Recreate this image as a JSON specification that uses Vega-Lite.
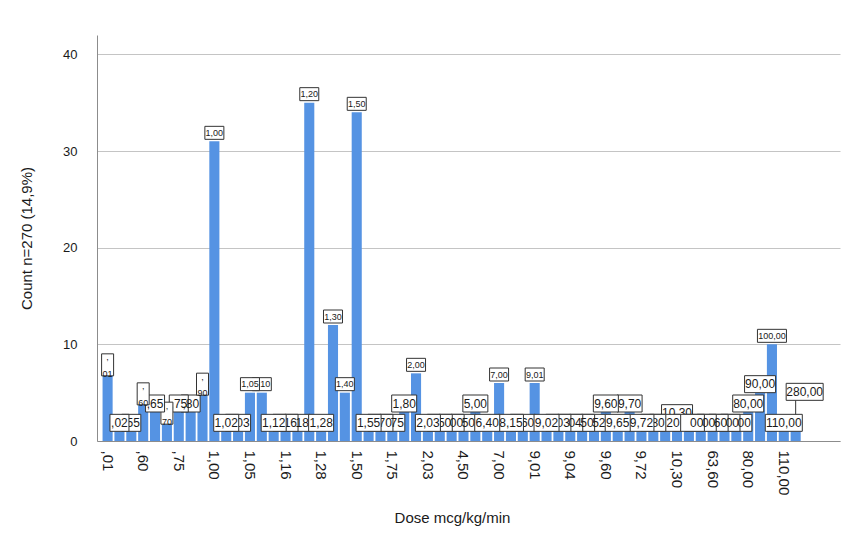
{
  "$schema": "https://vega.github.io/schema/vega-lite/v6.json",
  "width": 743,
  "height": 406,
  "autosize": {"type": "none"},
  "padding": {"left": 97, "top": 35, "right": 11, "bottom": 100},
  "background": "white",
  "config": {
    "font": "Liberation Sans",
    "view": {"stroke": null},
    "axis": {"labelColor": "#1a1a1a", "titleColor": "#1a1a1a", "titleFontWeight": "normal", "ticks": false, "domainColor": "#8c8c8c"}
  },
  "data": {
    "values": [
      {"label": ",01", "dose": 0.01, "count": 7},
      {"label": ",02", "dose": 0.02, "count": 1},
      {"label": ",55", "dose": 0.55, "count": 1},
      {"label": ",60", "dose": 0.6, "count": 4},
      {"label": ",65", "dose": 0.65, "count": 3},
      {"label": ",70", "dose": 0.7, "count": 2},
      {"label": ",75", "dose": 0.75, "count": 3},
      {"label": ",80", "dose": 0.8, "count": 3},
      {"label": ",90", "dose": 0.9, "count": 5},
      {"label": "1,00", "dose": 1.0, "count": 31},
      {"label": "1,02", "dose": 1.02, "count": 1},
      {"label": "1,03", "dose": 1.03, "count": 1},
      {"label": "1,05", "dose": 1.05, "count": 5},
      {"label": "1,10", "dose": 1.1, "count": 5},
      {"label": "1,12", "dose": 1.12, "count": 1},
      {"label": "1,16", "dose": 1.16, "count": 1},
      {"label": "1,18", "dose": 1.18, "count": 1},
      {"label": "1,20", "dose": 1.2, "count": 35},
      {"label": "1,28", "dose": 1.28, "count": 1},
      {"label": "1,30", "dose": 1.3, "count": 12},
      {"label": "1,40", "dose": 1.4, "count": 5},
      {"label": "1,50", "dose": 1.5, "count": 34},
      {"label": "1,55", "dose": 1.55, "count": 1},
      {"label": "1,70", "dose": 1.7, "count": 1},
      {"label": "1,75", "dose": 1.75, "count": 1},
      {"label": "1,80", "dose": 1.8, "count": 3},
      {"label": "2,00", "dose": 2.0, "count": 7},
      {"label": "2,03", "dose": 2.03, "count": 1},
      {"label": "2,50", "dose": 2.5, "count": 1},
      {"label": "3,00", "dose": 3.0, "count": 1},
      {"label": "4,50", "dose": 4.5, "count": 1},
      {"label": "5,00", "dose": 5.0, "count": 3},
      {"label": "6,40", "dose": 6.4, "count": 1},
      {"label": "7,00", "dose": 7.0, "count": 6},
      {"label": "8,15", "dose": 8.15, "count": 1},
      {"label": "8,60", "dose": 8.6, "count": 1},
      {"label": "9,01", "dose": 9.01, "count": 6},
      {"label": "9,02", "dose": 9.02, "count": 1},
      {"label": "9,03", "dose": 9.03, "count": 1},
      {"label": "9,04", "dose": 9.04, "count": 1},
      {"label": "9,50", "dose": 9.5, "count": 1},
      {"label": "9,52", "dose": 9.52, "count": 1},
      {"label": "9,60", "dose": 9.6, "count": 3},
      {"label": "9,65", "dose": 9.65, "count": 1},
      {"label": "9,70", "dose": 9.7, "count": 3},
      {"label": "9,72", "dose": 9.72, "count": 1},
      {"label": "9,80", "dose": 9.8, "count": 1},
      {"label": "10,20", "dose": 10.2, "count": 1},
      {"label": "10,30", "dose": 10.3, "count": 2},
      {"label": "11,00", "dose": 11.0, "count": 1},
      {"label": "60,00", "dose": 60.0, "count": 1},
      {"label": "63,60", "dose": 63.6, "count": 1},
      {"label": "70,00", "dose": 70.0, "count": 1},
      {"label": "75,00", "dose": 75.0, "count": 1},
      {"label": "80,00", "dose": 80.0, "count": 3},
      {"label": "90,00", "dose": 90.0, "count": 5},
      {"label": "100,00", "dose": 100.0, "count": 10},
      {"label": "110,00", "dose": 110.0, "count": 1},
      {"label": "280,00", "dose": 280.0, "count": 1}
    ]
  },
  "encoding": {
    "x": {
      "field": "label",
      "type": "ordinal",
      "scale": {
        "type": "band",
        "domain": [",01", ",02", ",55", ",60", ",65", ",70", ",75", ",80", ",90", "1,00", "1,02", "1,03", "1,05", "1,10", "1,12", "1,16", "1,18", "1,20", "1,28", "1,30", "1,40", "1,50", "1,55", "1,70", "1,75", "1,80", "2,00", "2,03", "2,50", "3,00", "4,50", "5,00", "6,40", "7,00", "8,15", "8,60", "9,01", "9,02", "9,03", "9,04", "9,50", "9,52", "9,60", "9,65", "9,70", "9,72", "9,80", "10,20", "10,30", "11,00", "60,00", "63,60", "70,00", "75,00", "80,00", "90,00", "100,00", "110,00", "280,00", "~a", "~b", "~c"],
        "paddingInner": 0.15,
        "paddingOuter": 0.39,
        "align": 0.6
      },
      "axis": {
        "values": [",01", ",60", ",75", "1,00", "1,05", "1,16", "1,28", "1,50", "1,75", "2,03", "4,50", "7,00", "9,01", "9,04", "9,60", "9,72", "10,30", "63,60", "80,00", "110,00"],
        "labelAngle": 90,
        "labelFontSize": 15,
        "labelPadding": 9,
        "grid": false,
        "title": "Dose mcg/kg/min",
        "titleFontSize": 15,
        "titlePadding": 16,
        "titleX": 355
      }
    },
    "y": {
      "field": "count",
      "type": "quantitative",
      "scale": {"domain": [0, 42], "nice": false},
      "axis": {
        "values": [0, 10, 20, 30, 40],
        "grid": true,
        "gridColor": "#c4c4c4",
        "labelFontSize": 13,
        "labelPadding": 20,
        "title": "Count n=270 (14,9%)",
        "titleFontSize": 15,
        "titlePadding": 28
      }
    }
  },
  "layer": [
    {
      "mark": {"type": "bar", "color": "#5593e3"}
    },
    {
      "transform": [{"filter": "datum.label == '10,30'"}],
      "mark": {"type": "point", "filled": true, "fill": "white", "stroke": "#333333", "strokeWidth": 1, "opacity": 1, "size": 400, "yOffset": -8.5},
      "encoding": {"shape": {"value": "M-1.55,-0.85L1.55,-0.85L1.55,0.85L-1.55,0.85Z"}}
    },
    {
      "transform": [{"filter": "datum.label == '10,30'"}],
      "mark": {"type": "text", "align": "center", "baseline": "middle", "fontSize": 12, "color": "#1a1a1a", "yOffset": -8.5},
      "encoding": {"text": {"field": "label"}}
    },
    {
      "transform": [{"filter": "indexof([',55',',75',',80','1,03','1,10','1,16','1,18','1,70','1,75','2,50','3,00','4,50','8,60','9,03','9,04','9,50','9,52','9,80','10,20','11,00','60,00','63,60','70,00','75,00'], datum.label) >= 0"}],
      "mark": {"type": "point", "filled": true, "fill": "white", "stroke": "#333333", "strokeWidth": 1, "opacity": 1, "size": 400, "yOffset": -8.5},
      "encoding": {
        "order": {"field": "dose", "sort": "descending"},
        "shape": {
          "condition": [
            {"test": "datum.label == '1,10'", "value": "M-0.95,-0.65L0.95,-0.65L0.95,0.65L-0.95,0.65Z"},
            {"test": "length(datum.label) == 3", "value": "M-0.95,-0.85L0.95,-0.85L0.95,0.85L-0.95,0.85Z"},
            {"test": "length(datum.label) == 5", "value": "M-1.55,-0.85L1.55,-0.85L1.55,0.85L-1.55,0.85Z"}
          ],
          "value": "M-1.25,-0.85L1.25,-0.85L1.25,0.85L-1.25,0.85Z"
        }
      }
    },
    {
      "transform": [{"filter": "indexof([',55',',75',',80'], datum.label) >= 0"}],
      "mark": {"type": "text", "align": "right", "baseline": "middle", "dir": "rtl", "limit": 17, "ellipsis": " ", "fontSize": 12, "color": "#1a1a1a", "xOffset": 8.5, "yOffset": -8.5},
      "encoding": {"text": {"field": "label"}}
    },
    {
      "transform": [{"filter": "indexof(['1,03','1,16','1,18','1,70','1,75','2,50','3,00','4,50','8,60','9,03','9,04','9,50','9,52','9,80'], datum.label) >= 0"}],
      "mark": {"type": "text", "align": "right", "baseline": "middle", "dir": "rtl", "limit": 17, "ellipsis": " ", "fontSize": 12, "color": "#1a1a1a", "xOffset": 11.5, "yOffset": -8.5},
      "encoding": {"text": {"field": "label"}}
    },
    {
      "transform": [{"filter": "indexof(['10,20','11,00','60,00','63,60','70,00','75,00'], datum.label) >= 0"}],
      "mark": {"type": "text", "align": "right", "baseline": "middle", "dir": "rtl", "limit": 17, "ellipsis": " ", "fontSize": 12, "color": "#1a1a1a", "xOffset": 14.5, "yOffset": -8.5},
      "encoding": {"text": {"field": "label"}}
    },
    {
      "transform": [{"filter": "datum.label == '1,10'"}],
      "mark": {"type": "text", "align": "right", "baseline": "middle", "dir": "rtl", "limit": 15.5, "ellipsis": " ", "fontSize": 9, "color": "#1a1a1a", "xOffset": 8.5, "yOffset": -8.5},
      "encoding": {"text": {"field": "label"}}
    },
    {
      "transform": [{"filter": "indexof([',55',',75',',80','1,03','1,10','1,16','1,18','1,70','1,75','2,50','3,00','4,50','8,60','9,03','9,04','9,50','9,52','9,80','10,20','10,30','11,00','60,00','63,60','70,00','75,00','280,00'], datum.label) < 0"}],
      "mark": {"type": "point", "filled": true, "fill": "white", "stroke": "#333333", "strokeWidth": 1, "opacity": 1, "size": 400, "yOffset": -8.5},
      "encoding": {
        "order": {"field": "dose", "sort": "descending"},
        "shape": {
          "condition": [
            {"test": "indexof([',01',',60',',70',',90'], datum.label) >= 0", "value": "M-0.6,-1.1L0.6,-1.1L0.6,1.1L-0.6,1.1Z"},
            {"test": "datum.label == '100,00'", "value": "M-1.45,-0.65L1.45,-0.65L1.45,0.65L-1.45,0.65Z"},
            {"test": "indexof(['1,00','1,05','1,20','1,30','1,40','1,50','2,00','7,00','9,01'], datum.label) >= 0", "value": "M-0.95,-0.65L0.95,-0.65L0.95,0.65L-0.95,0.65Z"},
            {"test": "length(datum.label) == 3", "value": "M-0.95,-0.85L0.95,-0.85L0.95,0.85L-0.95,0.85Z"},
            {"test": "length(datum.label) == 5", "value": "M-1.55,-0.85L1.55,-0.85L1.55,0.85L-1.55,0.85Z"},
            {"test": "length(datum.label) == 6", "value": "M-1.85,-0.85L1.85,-0.85L1.85,0.85L-1.85,0.85Z"}
          ],
          "value": "M-1.25,-0.85L1.25,-0.85L1.25,0.85L-1.25,0.85Z"
        }
      }
    },
    {
      "transform": [{"filter": "indexof([',01',',60',',70',',90',',55',',75',',80','1,03','1,10','1,16','1,18','1,70','1,75','2,50','3,00','4,50','8,60','9,03','9,04','9,50','9,52','9,80','10,20','10,30','11,00','60,00','63,60','70,00','75,00','280,00'], datum.label) < 0"}],
      "mark": {"type": "text", "align": "center", "baseline": "middle", "color": "#1a1a1a", "yOffset": -8.5},
      "encoding": {
        "text": {"field": "label"},
        "size": {
          "condition": {"test": "indexof(['1,00','1,05','1,20','1,30','1,40','1,50','2,00','7,00','9,01','100,00'], datum.label) >= 0", "value": 9},
          "value": 12
        }
      }
    },
    {
      "transform": [{"filter": "indexof([',01',',60',',70',',90'], datum.label) >= 0"}],
      "mark": {"type": "text", "align": "center", "baseline": "middle", "lineBreak": ",", "lineHeight": 9, "fontSize": 9, "color": "#1a1a1a", "yOffset": -8.5},
      "encoding": {"text": {"field": "label"}}
    },
    {
      "transform": [{"filter": "indexof([',01',',60',',70',',90'], datum.label) >= 0"}],
      "mark": {"type": "text", "align": "center", "baseline": "middle", "fontSize": 9, "color": "#1a1a1a", "yOffset": -16},
      "encoding": {"text": {"value": ","}}
    },
    {
      "transform": [{"filter": "datum.label == '280,00'"}],
      "mark": {"type": "rule", "color": "#333333", "strokeWidth": 1, "yOffset": -17, "y2Offset": -31},
      "encoding": {"y2": {"field": "count"}}
    },
    {
      "transform": [{"filter": "datum.label == '280,00'"}],
      "mark": {"type": "point", "filled": true, "fill": "white", "stroke": "#333333", "strokeWidth": 1, "opacity": 1, "size": 400, "xOffset": 9, "yOffset": -39.5},
      "encoding": {"shape": {"value": "M-1.85,-0.85L1.85,-0.85L1.85,0.85L-1.85,0.85Z"}}
    },
    {
      "transform": [{"filter": "datum.label == '280,00'"}],
      "mark": {"type": "text", "align": "center", "baseline": "middle", "fontSize": 12, "color": "#1a1a1a", "xOffset": 9, "yOffset": -39.5},
      "encoding": {"text": {"field": "label"}}
    }
  ]
}
